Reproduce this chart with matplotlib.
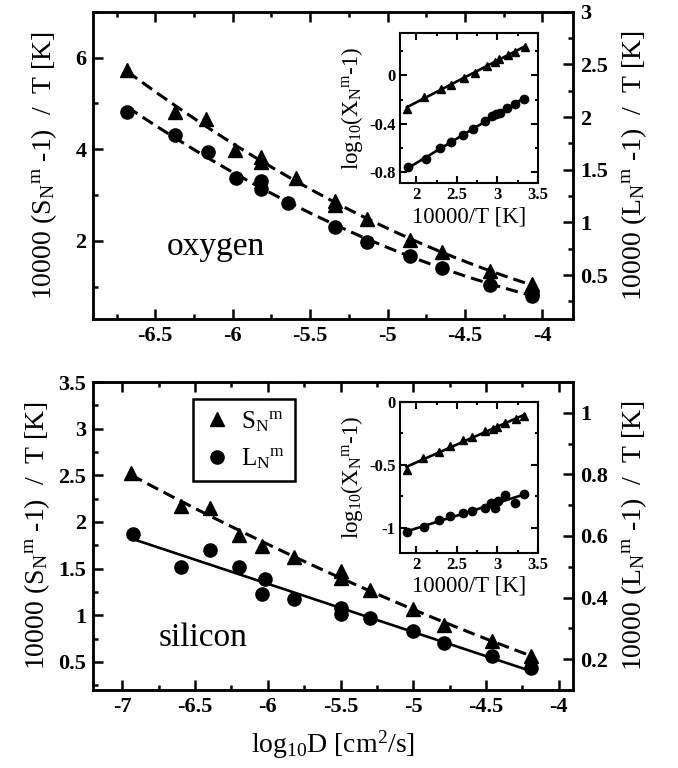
import numpy as np
import matplotlib
matplotlib.use('Agg')
import matplotlib.pyplot as plt
from matplotlib.ticker import MultipleLocator, FuncFormatter
from matplotlib.lines import Line2D

plt.rcParams['font.family'] = ['Liberation Serif', 'DejaVu Serif']
plt.rcParams['mathtext.fontset'] = 'custom'
plt.rcParams['mathtext.rm'] = 'Liberation Serif'
plt.rcParams['mathtext.default'] = 'regular'
plt.rcParams['axes.unicode_minus'] = False
plt.rcParams['axes.linewidth'] = 1.8

# ---- oxygen (top panel): log10 D vs 10000(X-1)/T ----
ox_D_S = [-6.68, -6.37, -6.17, -5.985, -5.82, -5.82, -5.59, -5.34, -5.34, -5.13, -4.855, -4.65, -4.34, -4.07]
ox_S = [5.72, 4.82, 4.65, 3.99, 3.84, 3.72, 3.38, 2.87, 2.78, 2.47, 2.02, 1.75, 1.35, 1.06]
ox_D_L = [-6.68, -6.37, -6.16, -5.98, -5.82, -5.82, -5.64, -5.34, -5.13, -4.855, -4.65, -4.34, -4.07, -4.07]
ox_L = [2.05, 1.83, 1.67, 1.42, 1.39, 1.32, 1.18, 0.96, 0.81, 0.68, 0.57, 0.41, 0.33, 0.30]

# oxygen inset: 10000/T vs log10(X-1)
oxi_T_S = [1.886, 2.097, 2.305, 2.424, 2.593, 2.72, 2.869, 2.966, 3.017, 3.131, 3.216, 3.335]
oxi_S = [-0.274, -0.178, -0.110, -0.079, -0.025, 0.022, 0.077, 0.112, 0.131, 0.164, 0.195, 0.236]
oxi_T_L = [1.894, 2.114, 2.297, 2.424, 2.58, 2.70, 2.847, 2.932, 2.987, 3.038, 3.123, 3.216, 3.326]
oxi_L = [-0.759, -0.690, -0.603, -0.553, -0.493, -0.444, -0.375, -0.334, -0.321, -0.312, -0.266, -0.238, -0.197]

# ---- silicon (bottom panel) ----
si_D_S = [-6.94, -6.6, -6.4, -6.2, -6.04, -5.82, -5.5, -5.5, -5.3, -5.0, -4.79, -4.46, -4.19]
si_S = [2.53, 2.17, 2.15, 1.86, 1.74, 1.62, 1.47, 1.40, 1.27, 1.07, 0.90, 0.73, 0.56]
si_D_L = [-6.93, -6.6, -6.4, -6.2, -6.02, -6.04, -5.82, -5.5, -5.5, -5.3, -5.0, -4.79, -4.46, -4.19]
si_L = [0.607, 0.499, 0.555, 0.499, 0.461, 0.413, 0.397, 0.365, 0.348, 0.335, 0.29, 0.254, 0.211, 0.170]

sii_T_S = [1.88, 2.085, 2.286, 2.415, 2.573, 2.692, 2.842, 2.949, 2.99, 3.098, 3.226, 3.333]
sii_S = [-0.542, -0.450, -0.403, -0.351, -0.306, -0.280, -0.236, -0.215, -0.202, -0.168, -0.141, -0.115]
sii_T_L = [1.889, 2.094, 2.286, 2.415, 2.573, 2.692, 2.842, 2.927, 2.97, 3.013, 3.098, 3.214, 3.333]
sii_L = [-1.039, -0.995, -0.942, -0.908, -0.882, -0.869, -0.843, -0.804, -0.843, -0.785, -0.743, -0.804, -0.733]

fmt = FuncFormatter(lambda v, p: '%g' % v)

lab_S = r'10000 (S$_N$$^m$ -1)  /  T [K]'
lab_L = r'10000 (L$_N$$^m$ -1)  /  T [K]'


def set_ticks(ax, axis, major, minor, size, lw, mlen):
    """Major/minor ticks pointing in, '%g' labels in bold."""
    a = ax.xaxis if axis == 'x' else ax.yaxis
    a.set_major_locator(MultipleLocator(major))
    a.set_minor_locator(MultipleLocator(minor))
    a.set_major_formatter(fmt)
    ax.tick_params(axis=axis, which='both', direction='in', width=lw, labelsize=size, pad=5)
    ax.tick_params(axis=axis, which='major', length=mlen)
    ax.tick_params(axis=axis, which='minor', length=mlen / 2)
    for lbl in a.get_ticklabels():
        lbl.set_fontweight('bold')


def fit_line(ax, x, y, deg, style):
    c = np.polyfit(x, y, deg)
    xs = np.linspace(min(x), max(x), 100)
    if style == '--':
        ax.plot(xs, np.polyval(c, xs), color='k', lw=2.2, ls='--', dashes=(4, 2))
    else:
        ax.plot(xs, np.polyval(c, xs), color='k', lw=1.9)


def main_panel(rect, DS, S, DL, L, xlim, ylim_l, ylim_r, rmajor, lmajor, ldeg):
    ax = fig.add_axes(rect)
    ax2 = ax.twinx()
    fit_line(ax, DS, S, 2, '--')
    ax.plot(DS, S, '^', color='k', ms=10)
    fit_line(ax2, DL, L, ldeg, '--' if ldeg == 2 else '-')
    ax2.plot(DL, L, 'o', color='k', ms=9.5)
    ax.set_xlim(xlim)
    ax.set_ylim(ylim_l)
    ax2.set_ylim(ylim_r)
    set_ticks(ax, 'x', 0.5, 0.25, 16, 1.8, 7)
    ax.tick_params(axis='x', which='both', top=True)
    set_ticks(ax, 'y', lmajor, lmajor / 2, 16, 1.8, 7)
    set_ticks(ax2, 'y', rmajor, rmajor / 2, 16, 1.8, 7)
    return ax, ax2


def inset(rect, TS, S, TL, L, ylim, ymajor, yminor):
    ai = fig.add_axes(rect)
    for sp in ai.spines.values():
        sp.set_linewidth(1.5)
    fit_line(ai, TS, S, 1, '-')
    fit_line(ai, TL, L, 1, '-')
    ai.plot(TS, S, '^', color='k', ms=6)
    ai.plot(TL, L, 'o', color='k', ms=6)
    ai.set_xlim(1.8, 3.5)
    ai.set_ylim(ylim)
    set_ticks(ai, 'x', 0.5, 0.25, 12, 1.5, 5)
    set_ticks(ai, 'y', ymajor, yminor, 12, 1.5, 5)
    ai.tick_params(which='both', top=True, right=True, pad=3)
    ai.set_xlabel('10000/T [K]', fontsize=16.5, labelpad=2)
    ai.set_ylabel(r'log$_{10}$(X$_N$$^m$-1)', fontsize=16.5, labelpad=3)
    return ai


fig = plt.figure(figsize=(6.78, 7.68), dpi=100)

# top: oxygen
ax1, ax1r = main_panel([0.1376, 0.5842, 0.708, 0.4005], ox_D_S, ox_S, ox_D_L, ox_L,
                       (-6.9, -3.8), (0.29, 7.0), (0.08, 3.0), 0.5, 2, 2)
ax1.set_ylabel(lab_S, fontsize=20, labelpad=12)
ax1r.set_ylabel(lab_L, fontsize=20, labelpad=8)
ax1.text(0.152, 0.209, 'oxygen', transform=ax1.transAxes, fontsize=24)
inset([0.590, 0.7613, 0.2035, 0.196], oxi_T_S, oxi_S, oxi_T_L, oxi_L, (-0.89, 0.35), 0.4, 0.2)

# bottom: silicon
ax3, ax3r = main_panel([0.1376, 0.1016, 0.708, 0.401], si_D_S, si_S, si_D_L, si_L,
                       (-7.2, -3.9), (0.2, 3.5), (0.1, 1.1), 0.2, 0.5, 1)
ax3.set_ylabel(lab_S, fontsize=20, labelpad=5)
ax3r.set_ylabel(lab_L, fontsize=20, labelpad=8)
ax3.set_xlabel(r'log$_{10}$D [cm$^2$/s]', fontsize=20, labelpad=8)
ax3.text(0.137, 0.143, 'silicon', transform=ax3.transAxes, fontsize=24)
inset([0.590, 0.2803, 0.2035, 0.1966], sii_T_S, sii_S, sii_T_L, sii_L, (-1.2, 0.0), 0.5, 0.25)

handles = [Line2D([], [], ls='none', marker='^', color='k', ms=10),
           Line2D([], [], ls='none', marker='o', color='k', ms=9.5)]
leg = ax3.legend(handles, [r'S$_N$$^m$', r'L$_N$$^m$'], loc='upper left',
                 bbox_to_anchor=(0.208, 0.944), borderaxespad=0, fontsize=18,
                 fancybox=False, framealpha=1, edgecolor='k', handletextpad=0.4,
                 handlelength=1.1, labelspacing=0.5, borderpad=0.4)
leg.get_frame().set_linewidth(1.8)

fig.savefig('out.png', dpi=100)
